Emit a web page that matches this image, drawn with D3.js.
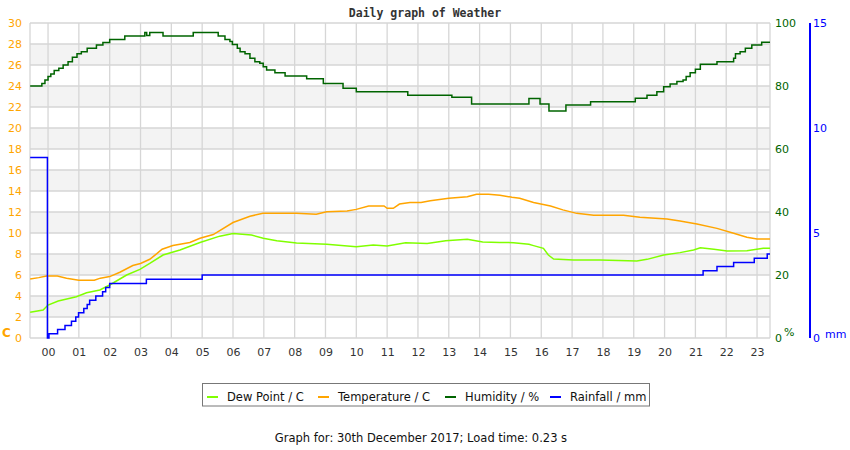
<!DOCTYPE html>
<html>
<head>
<meta charset="utf-8">
<script src="https://cdn.jsdelivr.net/npm/d3@7"></script>
<style>
  html, body { margin: 0; padding: 0; background: #fff; }
  svg { display: block; font-family: "DejaVu Sans", sans-serif; }
</style>
</head>
<body>
<div id="chart"></div>
<script>
// hour of day (fractional) and value
const hourLabels = ["00","01","02","03","04","05","06","07","08","09","10","11",
                    "12","13","14","15","16","17","18","19","20","21","22","23"];

const temperature = [
  [-0.58, 5.62], [-0.3, 5.75], [-0.05, 5.9], [0.3, 5.9], [0.6, 5.7], [1.0, 5.5], [1.5, 5.5],
  [1.7, 5.7], [2.0, 5.85], [2.33, 6.26], [2.75, 6.9], [3.0, 7.1], [3.3, 7.5], [3.5, 7.97],
  [3.7, 8.45], [4.05, 8.8], [4.6, 9.1], [4.93, 9.5], [5.36, 9.85], [6.0, 11.0], [6.55, 11.6],
  [6.97, 11.87], [8.06, 11.87], [8.7, 11.78], [9.04, 12.03], [9.7, 12.1], [10.0, 12.25],
  [10.4, 12.57], [10.9, 12.57], [11.0, 12.35], [11.2, 12.35], [11.4, 12.76], [11.74, 12.9],
  [12.1, 12.9], [12.4, 13.08], [13.0, 13.3], [13.6, 13.46], [13.9, 13.68], [14.29, 13.68],
  [14.66, 13.6], [15.05, 13.4], [15.3, 13.3], [15.75, 12.9], [16.3, 12.57], [16.7, 12.2],
  [17.15, 11.87], [17.7, 11.7], [18.67, 11.7], [19.2, 11.5], [20.08, 11.33], [20.5, 11.14],
  [21.05, 10.86], [21.7, 10.44], [22.24, 9.97], [22.67, 9.59], [23.0, 9.43], [23.42, 9.43]
];

const dewPoint = [
  [-0.58, 2.45], [-0.16, 2.67], [0.0, 3.14], [0.33, 3.52], [0.92, 3.93], [1.25, 4.31],
  [1.68, 4.57], [2.0, 5.05], [2.55, 6.0], [2.98, 6.54], [3.3, 7.1], [3.73, 7.9], [4.28, 8.38],
  [4.93, 9.1], [5.57, 9.7], [6.0, 9.95], [6.6, 9.8], [6.98, 9.5], [7.42, 9.27], [8.06, 9.05],
  [9.04, 8.92], [10.0, 8.7], [10.55, 8.86], [11.0, 8.76], [11.6, 9.08], [12.3, 9.0],
  [12.9, 9.27], [13.6, 9.4], [14.1, 9.14], [14.66, 9.1], [15.1, 9.08], [15.6, 8.92],
  [15.75, 8.8], [16.07, 8.54], [16.23, 7.9], [16.4, 7.52], [17.05, 7.43], [17.9, 7.43],
  [19.1, 7.33], [19.43, 7.49], [19.97, 7.9], [20.5, 8.13], [20.94, 8.38], [21.16, 8.6],
  [21.6, 8.45], [22.03, 8.29], [22.67, 8.32], [23.2, 8.54], [23.42, 8.54]
];

const humidity = [
  [-0.58, 80.0], [-0.2, 80.8], [-0.1, 81.9], [0.0, 83.0], [0.09, 83.8], [0.2, 84.9],
  [0.35, 85.6], [0.49, 86.7], [0.65, 87.7], [0.79, 89.1], [0.94, 90.2], [1.08, 90.9],
  [1.27, 92.0], [1.57, 93.0], [1.78, 93.8], [2.0, 94.8], [2.49, 95.9], [3.14, 97.0],
  [3.2, 96.0], [3.3, 97.0], [3.73, 95.9], [4.71, 97.0], [5.52, 95.9], [5.74, 94.8],
  [5.9, 94.1], [5.98, 93.2], [6.14, 92.0], [6.23, 90.9], [6.39, 90.2], [6.55, 88.8],
  [6.71, 87.7], [6.87, 87.2], [6.98, 86.1], [7.09, 85.1], [7.36, 84.2], [7.69, 83.2],
  [8.39, 82.3], [8.93, 80.8], [9.57, 79.3], [10.0, 78.2], [11.67, 77.1], [13.1, 76.4],
  [13.74, 74.3], [15.6, 76.0], [15.96, 74.3], [16.25, 72.1], [16.8, 74.0], [17.6, 75.0],
  [19.05, 76.1], [19.43, 77.1], [19.75, 78.2], [19.97, 79.8], [20.18, 80.6], [20.4, 81.4],
  [20.6, 81.9], [20.7, 83.0], [20.83, 84.2], [21.0, 85.3], [21.16, 86.9], [21.7, 87.7],
  [22.24, 88.8], [22.3, 90.2], [22.45, 90.9], [22.62, 92.0], [22.83, 93.0], [23.15, 93.9],
  [23.42, 93.9]
];

const rainfall = [
  [-0.58, 8.6], [-0.02, 0.0], [0.03, 0.2], [0.31, 0.4], [0.55, 0.6], [0.76, 0.8], [0.9, 1.0],
  [0.99, 1.2], [1.16, 1.4], [1.27, 1.6], [1.35, 1.8], [1.55, 2.0], [1.77, 2.2], [1.87, 2.4],
  [2.0, 2.6], [3.19, 2.8], [5.0, 3.0], [21.25, 3.2], [21.7, 3.4], [22.24, 3.6], [22.91, 3.8],
  [23.33, 4.0], [23.42, 4.0]
];

const tempTicks = d3.range(0, 31, 2);
const humTicks = [0, 20, 40, 60, 80, 100];
const rainTicks = [0, 5, 10, 15];

const legendItems = [
  { label: "Dew Point / C", color: "#80ff00" },
  { label: "Temperature / C", color: "#ffa500" },
  { label: "Humidity / %", color: "#006400" },
  { label: "Rainfall / mm", color: "#0000ff" }
];

const W = 850, H = 450;
const plot = { left: 30, right: 770, top: 23, bottom: 338 };

const svg = d3.select("#chart").append("svg")
  .attr("width", W)
  .attr("height", H);

svg.append("rect").attr("width", W).attr("height", H).attr("fill", "#fff");

const x = d3.scaleLinear().domain([-0.585, 23.42]).range([plot.left, plot.right]);
const yT = d3.scaleLinear().domain([0, 30]).range([plot.bottom, plot.top]);
const yH = d3.scaleLinear().domain([0, 100]).range([plot.bottom, plot.top]);
const yR = d3.scaleLinear().domain([0, 15]).range([plot.bottom, plot.top]);

// alternating bands
svg.append("g").selectAll("rect")
  .data(tempTicks.filter(t => t % 4 === 2 && t < 30))
  .join("rect")
  .attr("x", plot.left)
  .attr("width", plot.right - plot.left)
  .attr("y", d => yT(d + 2))
  .attr("height", d => yT(d) - yT(d + 2))
  .attr("fill", "#f3f3f3");

// grid
const grid = svg.append("g").attr("stroke", "#d6d6d6").attr("stroke-width", 1.3);
grid.selectAll("line.h")
  .data(tempTicks)
  .join("line")
  .attr("class", "h")
  .attr("x1", plot.left).attr("x2", plot.right)
  .attr("y1", d => yT(d)).attr("y2", d => yT(d));
grid.selectAll("line.v")
  .data(d3.range(0, 24))
  .join("line")
  .attr("class", "v")
  .attr("x1", d => x(d)).attr("x2", d => x(d))
  .attr("y1", plot.top).attr("y2", plot.bottom);
grid.append("line")
  .attr("x1", plot.left).attr("x2", plot.left)
  .attr("y1", plot.top).attr("y2", plot.bottom);
grid.append("line")
  .attr("x1", plot.right).attr("x2", plot.right)
  .attr("y1", plot.top).attr("y2", plot.bottom);

// axes
function styleAxis(g, color) {
  g.select(".domain").remove();
  g.selectAll(".tick line").remove();
  g.selectAll("text").attr("fill", color).attr("font-size", 11)
    .attr("font-family", "DejaVu Sans, sans-serif");
}

svg.append("g")
  .attr("transform", `translate(${plot.left - 8},0)`)
  .call(d3.axisLeft(yT).tickValues(tempTicks).tickSize(0).tickPadding(0))
  .call(g => styleAxis(g, "#ffa500"));

svg.append("g")
  .attr("transform", `translate(${plot.right + 5},0)`)
  .call(d3.axisRight(yH).tickValues(humTicks).tickSize(0).tickPadding(0))
  .call(g => styleAxis(g, "#006400"));

const rainAxis = svg.append("g")
  .attr("transform", "translate(810,0)")
  .call(d3.axisRight(yR).tickValues(rainTicks).tickSize(0).tickPadding(3));
rainAxis.select(".domain").remove();
rainAxis.selectAll(".tick line").remove();
rainAxis.selectAll("text").attr("fill", "#0000ff").attr("font-size", 11)
  .attr("font-family", "DejaVu Sans, sans-serif");
rainAxis.append("line")
  .attr("y1", plot.top).attr("y2", plot.bottom)
  .attr("stroke", "#0000ff").attr("stroke-width", 2);

svg.append("g")
  .attr("transform", `translate(0,${plot.bottom + 10})`)
  .call(d3.axisBottom(x).tickValues(d3.range(0, 24)).tickFormat(d => hourLabels[d]).tickSize(0).tickPadding(0))
  .call(g => styleAxis(g, "#333"));

// unit labels
svg.append("text").attr("x", 2).attr("y", 337)
  .attr("fill", "#ffa500").attr("font-size", 12).attr("font-weight", "bold").text("C");
svg.append("text").attr("x", 784).attr("y", 336)
  .attr("fill", "#006400").attr("font-size", 11).text("%");
svg.append("text").attr("x", 825).attr("y", 338)
  .attr("fill", "#0000ff").attr("font-size", 11).text("mm");

// series
const lineT = d3.line().x(d => x(d[0])).y(d => yT(d[1]));
const lineH = d3.line().x(d => x(d[0])).y(d => yH(d[1])).curve(d3.curveStepAfter);
const lineR = d3.line().x(d => x(d[0])).y(d => yR(d[1])).curve(d3.curveStepAfter);

const series = svg.append("g").attr("fill", "none").attr("stroke-width", 1.5);
series.append("path").attr("d", lineT(dewPoint)).attr("stroke", "#80ff00");
series.append("path").attr("d", lineT(temperature)).attr("stroke", "#ffa500");
series.append("path").attr("d", lineH(humidity)).attr("stroke", "#006400");
series.append("path").attr("d", lineR(rainfall)).attr("stroke", "#0000ff");

// title
svg.append("text")
  .attr("x", 425).attr("y", 17)
  .attr("text-anchor", "middle")
  .attr("font-family", "DejaVu Sans Mono, monospace")
  .attr("font-weight", "bold")
  .attr("font-size", 11.5)
  .attr("fill", "#333")
  .text("Daily graph of Weather");

// legend
const legend = svg.append("g");
legend.append("rect")
  .attr("x", 202.5).attr("y", 383.5)
  .attr("width", 447).attr("height", 22.5)
  .attr("fill", "#fff").attr("stroke", "#777").attr("stroke-width", 1);
const legendX = [207, 318, 445, 550];
const li = legend.selectAll("g.item")
  .data(legendItems)
  .join("g")
  .attr("class", "item")
  .attr("transform", (d, i) => `translate(${legendX[i]},397)`);
li.append("line")
  .attr("x1", 0).attr("x2", 11)
  .attr("stroke", d => d.color).attr("stroke-width", 2);
li.append("text")
  .attr("x", 20).attr("y", 4)
  .attr("font-size", 11.5).attr("fill", "#111")
  .text(d => d.label);

svg.append("text")
  .attr("x", 421).attr("y", 442)
  .attr("text-anchor", "middle")
  .attr("font-size", 11.5).attr("fill", "#111")
  .text("Graph for: 30th December 2017; Load time: 0.23 s");
</script>
</body>
</html>
